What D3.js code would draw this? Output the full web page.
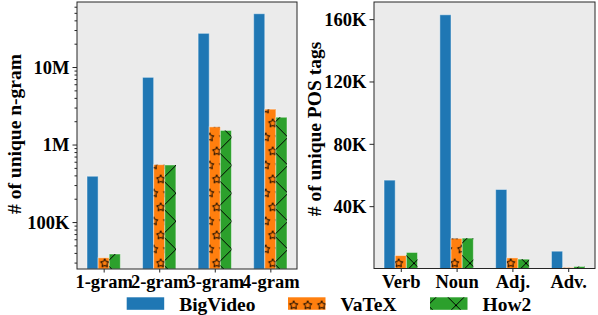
<!DOCTYPE html>
<html>
<head>
<meta charset="utf-8">
<script src="https://cdn.jsdelivr.net/npm/d3@7"></script>
<style>
  body { margin: 0; background: #fff; }
  text { font-family: "Liberation Serif", "Times New Roman", serif; font-weight: bold; fill: #000; }
</style>
</head>
<body>
<svg id="chart"></svg>
<script>
// data
const ngramCats = ["1-gram", "2-gram", "3-gram", "4-gram"]
const ngramBigVideo = [390e3, 7.36e6, 27.2e6, 48.7e6]
const ngramVaTeX = [34.6e3, 550e3, 1.69e6, 2.86e6]
const ngramHow2 = [38.7e3, 545e3, 1.52e6, 2.25e6]

const posCats = ["Verb", "Noun", "Adj.", "Adv."]
const posBigVideo = [56.7e3, 162.8e3, 50.7e3, 11.1e3]
const posVaTeX = [8.3e3, 19.3e3, 6.8e3, 0.6e3]
const posHow2 = [10.3e3, 19.5e3, 6.0e3, 1.3e3]

const ngramTicks = [1e5, 1e6, 1e7]
const ngramTickLabels = ["100K", "1M", "10M"]
const posTicks = [40e3, 80e3, 120e3, 160e3]
const posTickLabels = ["40K", "80K", "120K", "160K"]

const seriesNames = ["BigVideo", "VaTeX", "How2"]
const colors = ["#1f77b4", "#ff7f0e", "#2ca02c"]

const W = 598, H = 315
const svg = d3.select("#chart").attr("width", W).attr("height", H)
const defs = svg.append("defs")

// star hatch (VaTeX)
function starPath(cx, cy, R) {
	let pts = []
	for (let k = 0; k < 10; k++) {
		const a = -Math.PI / 2 + k * Math.PI / 5
		const r = k % 2 ? R * 0.5 : R
		pts.push([cx + r * Math.cos(a), cy + r * Math.sin(a)])
	}
	return "M" + pts.map(p => p.join(",")).join("L") + "Z"
}
const starPat = defs.append("pattern")
	.attr("id", "stars")
	.attr("patternUnits", "userSpaceOnUse")
	.attr("x", 153.7).attr("y", 172.3)
	.attr("width", 14).attr("height", 28)
;[[7, 7], [0, 21], [14, 21], [7, 35], [7, -21]].forEach(p => {
	starPat.append("path")
		.attr("d", starPath(p[0], p[1], 4.4))
		.attr("fill", "none").attr("stroke", "#000").attr("stroke-width", 1)
})

// x hatch (How2)
const xPat = defs.append("pattern")
	.attr("id", "cross")
	.attr("patternUnits", "userSpaceOnUse")
	.attr("x", 162).attr("y", 179.3)
	.attr("width", 28).attr("height", 28)
xPat.append("path")
	.attr("d", "M-1,-1L29,29M-1,29L29,-1")
	.attr("stroke", "#000").attr("stroke-width", 1).attr("fill", "none")

const hatches = [null, "url(#stars)", "url(#cross)"]

function drawPanel(p) {
	const g = svg.append("g")

	g.append("rect")
		.attr("x", p.x0).attr("y", p.y0)
		.attr("width", p.x1 - p.x0).attr("height", p.y1 - p.y0)
		.attr("fill", "#ebebeb")

	const x = d3.scaleLinear().domain([-0.48, p.cats.length - 0.52]).range([p.x0, p.x1])
	const y = p.log
		? d3.scaleLog().domain(p.domain).range([p.y1, p.y0])
		: d3.scaleLinear().domain(p.domain).range([p.y1, p.y0])
	const bw = x(0.2) - x(0)
	const offsets = [-0.2, 0, 0.2]

	p.series.forEach((vals, s) => {
		const bars = g.append("g")
		const draw = (fill) => bars.selectAll(null)
			.data(vals)
			.join("rect")
			.attr("x", (d, i) => x(i + offsets[s]) - bw / 2)
			.attr("y", d => y(d))
			.attr("width", bw)
			.attr("height", d => p.y1 - y(d))
			.attr("fill", fill)
		draw(colors[s])
			.attr("stroke", "rgba(255,255,255,0.45)")
			.attr("stroke-width", 1)
		if (hatches[s]) draw(hatches[s])
	})

	// y axis
	const yAxis = g.append("g")
		.attr("transform", `translate(${p.x0},0)`)
		.call(d3.axisLeft(y).tickValues(p.ticks).tickFormat((d, i) => p.tickLabels[i]).tickSize(4.5).tickPadding(3))
	yAxis.select(".domain").remove()
	yAxis.selectAll("text").style("font-size", "18.5px").attr("dy", "0.34em")
	yAxis.selectAll("line").attr("stroke", "#262626")

	if (p.log) {
		let minor = []
		for (let e = 4; e <= 7; e++) {
			for (let m = 2; m <= 9; m++) {
				const v = m * Math.pow(10, e)
				if (v > p.domain[0] && v < p.domain[1]) minor.push(v)
			}
		}
		const mAxis = g.append("g")
			.attr("transform", `translate(${p.x0},0)`)
			.call(d3.axisLeft(y).tickValues(minor).tickFormat("").tickSize(2.5))
		mAxis.select(".domain").remove()
		mAxis.selectAll("line").attr("stroke", "#262626")
	}

	// x axis
	const xAxis = g.append("g")
		.attr("transform", `translate(0,${p.y1})`)
		.call(d3.axisBottom(x).tickValues(d3.range(p.cats.length)).tickFormat(i => p.cats[i]).tickSize(3.5).tickPadding(2.5))
	xAxis.select(".domain").remove()
	xAxis.selectAll("text").style("font-size", "18.5px")
	xAxis.selectAll("line").attr("stroke", "#262626")

	// frame
	g.append("rect")
		.attr("x", p.x0).attr("y", p.y0)
		.attr("width", p.x1 - p.x0).attr("height", p.y1 - p.y0)
		.attr("fill", "none").attr("stroke", "#262626").attr("stroke-width", 1)

	g.append("text")
		.attr("transform", `translate(${p.labelX},${p.labelY}) rotate(-90)`)
		.attr("text-anchor", "middle")
		.style("font-size", "19.5px")
		.text(p.label)
}

drawPanel({
	x0: 77, x1: 297, y0: 2, y1: 269,
	cats: ngramCats,
	series: [ngramBigVideo, ngramVaTeX, ngramHow2],
	log: true, domain: [24.8e3, 69e6],
	ticks: ngramTicks, tickLabels: ngramTickLabels,
	label: "# of unique n-gram", labelX: 21, labelY: 134
})

drawPanel({
	x0: 374, x1: 595, y0: 2, y1: 268.5,
	cats: posCats,
	series: [posBigVideo, posVaTeX, posHow2],
	log: false, domain: [0, 171e3],
	ticks: posTicks, tickLabels: posTickLabels,
	label: "# of unique POS tags", labelX: 320.5, labelY: 129
})

// legend
const legendX = [126.7, 288, 430]
const legend = svg.append("g")
seriesNames.forEach((name, i) => {
	legend.append("rect")
		.attr("x", legendX[i]).attr("y", 297.3)
		.attr("width", 37.5).attr("height", 12.5)
		.attr("fill", colors[i])
	if (hatches[i]) {
		legend.append("rect")
			.attr("x", legendX[i]).attr("y", 297.3)
			.attr("width", 37.5).attr("height", 12.5)
			.attr("fill", hatches[i])
	}
	legend.append("text")
		.attr("x", legendX[i] + 52.5).attr("y", 310.5)
		.style("font-size", "19.5px")
		.text(name)
})
</script>
</body>
</html>
